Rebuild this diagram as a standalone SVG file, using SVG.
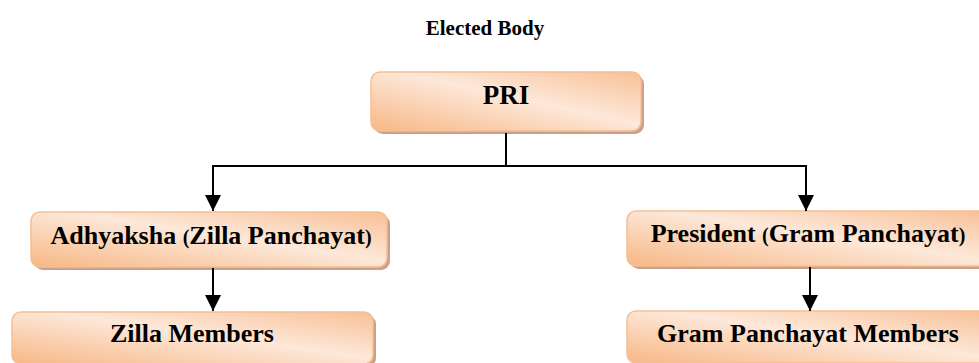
<svg xmlns="http://www.w3.org/2000/svg" width="979" height="363" viewBox="0 0 979 363">
<defs>
<linearGradient id="g" x1="0" y1="1" x2="1" y2="0">
<stop offset="0" stop-color="#F7B785"/>
<stop offset="0.55" stop-color="#FDE8D9"/>
<stop offset="1" stop-color="#F8C096"/>
</linearGradient>
<marker id="ah" markerUnits="userSpaceOnUse" markerWidth="16" markerHeight="16" viewBox="0 0 16 16" refX="16" refY="8" orient="auto">
<path d="M0,0 L16,8 L0,16 Z" fill="#000"/>
</marker>
</defs>
<style>
.box{fill:url(#g);stroke:#F6BE93;stroke-width:1.5}
.sh{fill:#C9A18A}
.t{font-family:"Liberation Serif","Times New Roman",serif;font-weight:bold;fill:#000;text-anchor:middle}
.c{stroke:#000;stroke-width:2;fill:none}
</style>
<text class="t" x="485" y="35" font-size="21">Elected Body</text>
<g id="pri">
<rect class="sh" x="374" y="75" width="270" height="59" rx="9"/>
<rect class="box" x="371" y="72" width="270" height="59" rx="9"/>
<text class="t" x="506" y="104" font-size="27">PRI</text>
</g>
<g id="adhyaksha">
<rect class="sh" x="34" y="215" width="356" height="55" rx="9"/>
<rect class="box" x="31" y="212" width="356" height="55" rx="9"/>
<text class="t" x="211" y="244" font-size="26">Adhyaksha <tspan font-size="20">(</tspan>Zilla Panchayat<tspan font-size="20">)</tspan></text>
</g>
<g id="zilla">
<rect class="sh" x="15" y="315" width="361" height="52" rx="9"/>
<rect class="box" x="12" y="312" width="361" height="52" rx="9"/>
<text class="t" x="192" y="342" font-size="26">Zilla Members</text>
</g>
<g id="president">
<rect class="sh" x="630" y="214" width="360" height="55" rx="9"/>
<rect class="box" x="627" y="211" width="360" height="55" rx="9"/>
<text class="t" x="808" y="242" font-size="26">President <tspan font-size="20">(</tspan>Gram Panchayat<tspan font-size="20">)</tspan></text>
</g>
<g id="gram">
<rect class="sh" x="630" y="314" width="360" height="52" rx="9"/>
<rect class="box" x="627" y="311" width="360" height="52" rx="9"/>
<text class="t" x="808" y="342" font-size="26">Gram Panchayat Members</text>
</g>
<g id="connectors">
<path class="c" d="M506,133 V166 M213,166 H806"/>
<path class="c" d="M213,165 V211" marker-end="url(#ah)"/>
<path class="c" d="M806,165 V211" marker-end="url(#ah)"/>
<path class="c" d="M213,268 V311" marker-end="url(#ah)"/>
<path class="c" d="M810,267 V311" marker-end="url(#ah)"/>
</g>
</svg>
